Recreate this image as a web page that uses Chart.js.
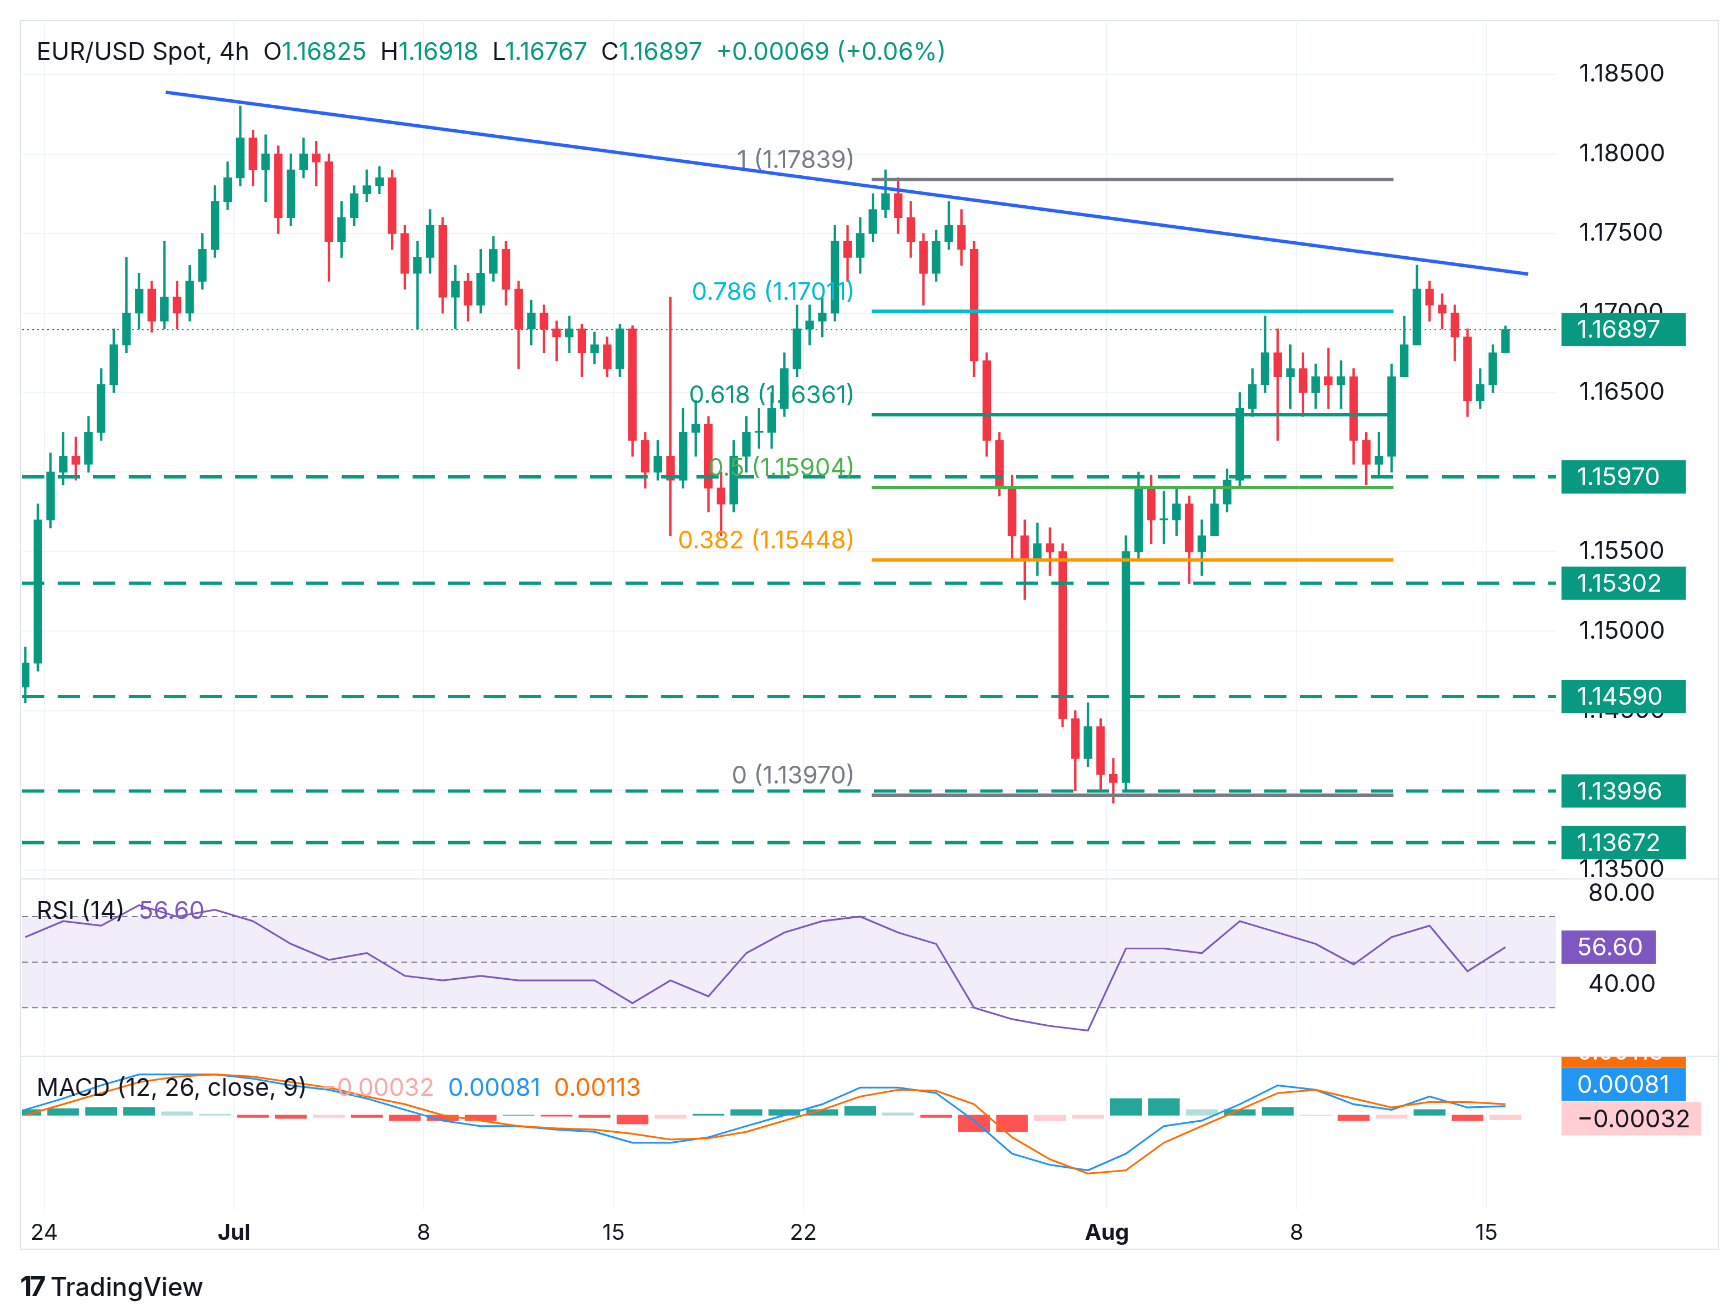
<!DOCTYPE html>
<html>
<head>
<meta charset="utf-8">
<script src="https://cdn.jsdelivr.net/npm/chart.js@4.4.1/dist/chart.umd.min.js"></script>
<style>
  body { margin:0; background:#fff; font-family: Inter, "Noto Sans", sans-serif; }
  #wrap { position:absolute; left:0; top:0; width:1560px; height:1185px; transform:scale(1.109); transform-origin:0 0; }
  .pane { position:absolute; left:18px; width:1532px; }
  .lbl { position:absolute; font-size:22px; color:#131722; white-space:pre; }
  .sep { position:absolute; left:18px; width:1532px; height:1px; background:#e0e3eb; }
</style>
</head>
<body>
<div id="wrap">
  <div style="position:absolute;left:18px;top:18px;width:1532px;height:1109px;border:1px solid #e0e3eb;box-sizing:border-box"></div>
  <div class="pane" style="top:18px;height:774px"><canvas id="main"></canvas></div>
  <div class="sep" style="top:792px"></div>
  <div class="pane" style="top:793px;height:158px"><canvas id="rsi"></canvas></div>
  <div class="sep" style="top:952px"></div>
  <div class="pane" style="top:953px;height:174px"><canvas id="macd"></canvas></div>

  <div class="lbl" style="left:33px;top:33px">EUR/USD Spot, 4h  O<span style="color:#089981">1.16825</span>  H<span style="color:#089981">1.16918</span>  L<span style="color:#089981">1.16767</span>  C<span style="color:#089981">1.16897</span>  <span style="color:#089981">+0.00069 (+0.06%)</span></div>
  <div class="lbl" style="left:33px;top:808px">RSI (14)  <span style="color:#7e57c2">56.60</span></div>
  <div class="lbl" style="left:33px;top:967px">MACD (12, 26, close, 9)  <span style="color:#f7a9a7">−0.00032</span>  <span style="color:#2196f3">0.00081</span>  <span style="color:#ff6d00">0.00113</span></div>
  <div class="lbl" style="left:18px;top:1145px;font-size:23px;font-weight:500"><b style="font-size:25px;letter-spacing:-2px">17</b> TradingView</div>
</div>
<script>
// 4h candles, drawn as 8h bars, trading-day index on x (0 = Jun 23)
const closes = [
  1.1480, 1.1570,
  1.1600, 1.1610, 1.1605,  1.1625, 1.1655, 1.1680,  1.1700, 1.1715, 1.1695,  1.1710, 1.1700, 1.1720,
  1.1740, 1.1770, 1.1785,  1.1810, 1.1790, 1.1800,  1.1760, 1.1790, 1.1800,  1.1795, 1.1745, 1.1760,  1.1775, 1.1780, 1.1785,
  1.1750, 1.1725, 1.1735,  1.1755, 1.1710, 1.1720,  1.1705, 1.1725, 1.1740,  1.1715, 1.1690, 1.1700,  1.1690, 1.1685, 1.1690,
  1.1675, 1.1680, 1.1665,  1.1690, 1.1620, 1.1600,  1.1610, 1.1595, 1.1625,  1.1630, 1.1590, 1.1580,  1.1610, 1.1625, 1.1625,
  1.1640, 1.1665, 1.1690,  1.1695, 1.1700, 1.1745,  1.1735, 1.1750, 1.1765,  1.1775, 1.1760, 1.1745,  1.1725, 1.1745, 1.1755,
  1.1740, 1.1670, 1.1620,  1.1590, 1.1560, 1.1545,  1.1555, 1.1550, 1.1445,  1.1420, 1.1440, 1.1410,  1.1405, 1.1550, 1.1590,
  1.1570, 1.1570, 1.1580,  1.1550, 1.1560, 1.1580,  1.1595, 1.1640, 1.1655,  1.1675, 1.1660, 1.1665,  1.1650, 1.1660, 1.1655,
  1.1660, 1.1620, 1.1605,  1.1610, 1.1660, 1.1680,  1.1715, 1.1705, 1.1700,  1.1685, 1.1645, 1.1655,  1.1675, 1.16897
];
const highs = [
  1.1490, 1.1580,
  1.1612, 1.1625, 1.1622,  1.1635, 1.1665, 1.1690,  1.1735, 1.1725, 1.1720,  1.1745, 1.1720, 1.1730,
  1.1750, 1.1780, 1.1795,  1.1830, 1.1815, 1.1812,  1.1805, 1.1800, 1.1810,  1.1808, 1.1800, 1.1770,  1.1780, 1.1790, 1.1792,
  1.1790, 1.1755, 1.1745,  1.1765, 1.1760, 1.1730,  1.1725, 1.1740, 1.1748,  1.1745, 1.1720, 1.1708,  1.1705, 1.1695, 1.1698,
  1.1693, 1.1688, 1.1685,  1.1693, 1.1692, 1.1625,  1.1620, 1.1710, 1.1640,  1.1645, 1.1635, 1.1600,  1.1620, 1.1635, 1.1640,
  1.1650, 1.1675, 1.1705,  1.1705, 1.1710, 1.1755,  1.1755, 1.1760, 1.1775,  1.1790, 1.1785, 1.1770,  1.1750, 1.1752, 1.1770,
  1.1765, 1.1745, 1.1675,  1.1625, 1.1598, 1.1570,  1.1568, 1.1565, 1.1555,  1.1450, 1.1455, 1.1445,  1.1420, 1.1560, 1.1600,
  1.1598, 1.1588, 1.1590,  1.1585, 1.1570, 1.1590,  1.1602, 1.1650, 1.1665,  1.1698, 1.1690, 1.1680,  1.1675, 1.1668, 1.1678,
  1.1670, 1.1665, 1.1625,  1.1625, 1.1668, 1.1698,  1.1730, 1.1720, 1.1712,  1.1705, 1.1690, 1.1665,  1.1680, 1.16918
];
const lows = [
  1.1455, 1.1475,
  1.1565, 1.1592, 1.1595,  1.1600, 1.1620, 1.1650,  1.1675, 1.1690, 1.1688,  1.1690, 1.1690, 1.1695,
  1.1715, 1.1735, 1.1765,  1.1780, 1.1780, 1.1770,  1.1750, 1.1755, 1.1785,  1.1780, 1.1720, 1.1735,  1.1755, 1.1770, 1.1775,
  1.1740, 1.1715, 1.1690,  1.1725, 1.1700, 1.1690,  1.1695, 1.1700, 1.1720,  1.1705, 1.1665, 1.1680,  1.1675, 1.1670, 1.1675,
  1.1660, 1.1668, 1.1660,  1.1660, 1.1610, 1.1590,  1.1595, 1.1560, 1.1590,  1.1610, 1.1575, 1.1560,  1.1575, 1.1600, 1.1615,
  1.1615, 1.1635, 1.1660,  1.1680, 1.1685, 1.1695,  1.1720, 1.1725, 1.1745,  1.1760, 1.1750, 1.1735,  1.1705, 1.1720, 1.1740,
  1.1730, 1.1660, 1.1610,  1.1585, 1.1545, 1.1520,  1.1535, 1.1535, 1.1440,  1.1400, 1.1415, 1.1400,  1.1392, 1.1400, 1.1545,
  1.1555, 1.1555, 1.1560,  1.1530, 1.1535, 1.1560,  1.1575, 1.1590, 1.1635,  1.1650, 1.1620, 1.1640,  1.1635, 1.1640, 1.1640,
  1.1640, 1.1605, 1.1592,  1.1598, 1.1600, 1.1660,  1.1680, 1.1695, 1.1690,  1.1670, 1.1635, 1.1640,  1.1650, 1.16767
];
const firstOpen = 1.1465;

// daily indicator readings
const rsi = [61,68,66,75,70,73,68,58,51,54,44,42,44,42,42,42,32,42,35,54,63,68,70,63,58,30,25,22,20,56,56,54,68,63,58,49,61,66,46,56.6];
const macdLine = [22,67,120,164,164,164,147,120,102,67,22,-22,-44,-44,-58,-67,-111,-111,-89,-44,0,44,111,111,89,-22,-155,-200,-222,-155,-44,-22,44,120,102,44,22,75,31,36];
const signalLine = [0,44,89,133,155,164,155,133,111,75,44,0,-22,-44,-53,-58,-75,-98,-93,-67,-22,22,75,102,98,44,-89,-178,-235,-222,-111,-44,22,89,102,67,31,53,53,44];
const histogram = [22,26,31,31,13,4,-9,-13,-9,-9,-22,-22,-22,0,-4,-9,-35,-13,4,22,22,22,35,9,-9,-66,-66,-22,-13,66,66,22,22,31,0,-22,-13,22,-22,-18];

const tickDays = [1, 6, 11, 16, 21, 29, 34, 39];
const tickLabels = ['24', 'Jul', '8', '15', '22', 'Aug', '8', '15'];
const priceTicks = [1.135, 1.14, 1.145, 1.15, 1.155, 1.16, 1.165, 1.17, 1.175, 1.18, 1.185];
const supportLevels = [1.1597, 1.15302, 1.1459, 1.13996, 1.13672];
const lastPrice = 1.16897;
const fibLevels = [
  { t: '1 (1.17839)', v: 1.17839, c: '#787b86' },
  { t: '0.786 (1.17011)', v: 1.17011, c: '#00bcd4' },
  { t: '0.618 (1.16361)', v: 1.16361, c: '#089981' },
  { t: '0.5 (1.15904)', v: 1.15904, c: '#4caf50' },
  { t: '0.382 (1.15448)', v: 1.15448, c: '#ff9800' },
  { t: '0 (1.13970)', v: 1.13970, c: '#787b86' }
];
const fibFrom = 22.8, fibTo = 36.55;
const trendLine = [{ x: 4.2, y: 1.18388 }, { x: 40.1, y: 1.17245 }];

const UP = '#089981', DOWN = '#f23645';
const X_MIN = 0.42, X_MAX = 40.83;
const AXIS_W = 147;

const opens = closes.map((c, i) => i ? closes[i - 1] : firstOpen);
const cx = closes.map((c, i) => 0.5 + i / 3);
const candleColors = closes.map((c, i) => c >= opens[i] ? UP : DOWN);

function xScale(showTicks) {
  return {
    type: 'linear', min: X_MIN, max: X_MAX, offset: false,
    afterBuildTicks: s => { s.ticks = tickDays.map(v => ({ value: v })); },
    grid: { color: '#f0f3fa', drawTicks: false, offset: false },
    border: { display: false },
    ticks: {
      display: showTicks, padding: 10, color: '#131722',
      font: ctx => ({ size: 20, family: 'Inter', weight: [6, 29].includes(ctx.tick && ctx.tick.value) ? 'bold' : 'normal' }),
      callback: v => tickLabels[tickDays.indexOf(v)]
    },
    afterFit: s => { s.height = showTicks ? 37 : 0; s.paddingLeft = 0; s.paddingRight = 0; }
  };
}
function fixWidth(s) { s.width = AXIS_W; s.paddingTop = 0; s.paddingBottom = 0; }

function box(ctx, x, y, w, text, bg, fg) {
  ctx.fillStyle = bg;
  ctx.fillRect(x, y - 15, w, 30);
  ctx.fillStyle = fg;
  ctx.font = '22px Inter';
  ctx.textBaseline = 'middle';
  ctx.textAlign = 'left';
  ctx.fillText(text, x + 14, y + 1);
}

const overlays = {
  id: 'overlays',
  afterDatasetsDraw(chart) {
    const { ctx, chartArea: a, scales: { x, y } } = chart;
    ctx.save();
    ctx.strokeStyle = UP; ctx.lineWidth = 1.2; ctx.setLineDash([1.5, 3]);
    ctx.beginPath(); ctx.moveTo(a.left, y.getPixelForValue(lastPrice)); ctx.lineTo(a.right, y.getPixelForValue(lastPrice)); ctx.stroke();
    ctx.lineWidth = 3; ctx.setLineDash([20, 12]);
    supportLevels.forEach(v => {
      const py = y.getPixelForValue(v);
      ctx.beginPath(); ctx.moveTo(a.left, py); ctx.lineTo(a.right, py); ctx.stroke();
    });
    ctx.setLineDash([]);
    ctx.font = '22px Inter'; ctx.textAlign = 'right'; ctx.textBaseline = 'middle';
    fibLevels.forEach(f => {
      const py = y.getPixelForValue(f.v);
      ctx.strokeStyle = f.c; ctx.lineWidth = 3;
      ctx.beginPath(); ctx.moveTo(x.getPixelForValue(fibFrom), py); ctx.lineTo(x.getPixelForValue(fibTo), py); ctx.stroke();
      ctx.fillStyle = f.c;
      ctx.fillText(f.t, x.getPixelForValue(fibFrom) - 15, py - 17);
    });
    ctx.strokeStyle = '#2962ff'; ctx.lineWidth = 3;
    ctx.beginPath();
    ctx.moveTo(x.getPixelForValue(trendLine[0].x), y.getPixelForValue(trendLine[0].y));
    ctx.lineTo(x.getPixelForValue(trendLine[1].x), y.getPixelForValue(trendLine[1].y));
    ctx.stroke();
    ctx.restore();
  },
  afterDraw(chart) {
    const { ctx, chartArea: a, scales: { y } } = chart;
    ctx.save();
    box(ctx, a.right + 5, y.getPixelForValue(lastPrice), 112, lastPrice.toFixed(5), UP, '#fff');
    supportLevels.forEach(v => box(ctx, a.right + 5, y.getPixelForValue(v), 112, v.toFixed(5), UP, '#fff'));
    ctx.restore();
  }
};

const baseOpts = {
  responsive: true, maintainAspectRatio: false, animation: false, devicePixelRatio: 2,
  layout: { padding: { left: 2, top: 0, bottom: 0, right: 0 } },
  plugins: { legend: { display: false }, tooltip: { enabled: false } }
};

new Chart(document.getElementById('main'), {
  type: 'bar',
  data: {
    datasets: [
      { data: cx.map((v, i) => ({ x: v, y: [lows[i], highs[i]] })), backgroundColor: candleColors, barThickness: 1.5, grouped: false, order: 2 },
      { data: cx.map((v, i) => ({ x: v, y: [opens[i], closes[i]] })), backgroundColor: candleColors, barThickness: 7, minBarLength: 1, grouped: false, order: 1 }
    ]
  },
  options: {
    ...baseOpts,
    scales: {
      x: xScale(false),
      y: {
        position: 'right', min: 1.13447, max: 1.18842,
        afterBuildTicks: s => { s.ticks = priceTicks.map(v => ({ value: v })); },
        afterFit: fixWidth,
        grid: { color: '#f0f3fa', drawTicks: false }, border: { display: false },
        ticks: { padding: 21, color: '#131722', font: { size: 22, family: 'Inter' }, callback: v => v.toFixed(5) }
      }
    }
  },
  plugins: [overlays]
});

const dayX = rsi.map((v, i) => i + 0.5);

new Chart(document.getElementById('rsi'), {
  type: 'line',
  data: {
    datasets: [{ data: rsi.map((v, i) => ({ x: dayX[i], y: v })), borderColor: '#7e57c2', borderWidth: 1.6, pointRadius: 0, tension: 0 }]
  },
  options: {
    ...baseOpts,
    scales: {
      x: xScale(false),
      y: {
        position: 'right', min: 9.8, max: 85.9,
        afterBuildTicks: s => { s.ticks = [{ value: 40 }, { value: 80 }]; },
        afterFit: fixWidth,
        grid: { display: false }, border: { display: false },
        ticks: { padding: 21, color: '#131722', font: { size: 22, family: 'Inter' }, callback: v => v.toFixed(2) }
      }
    }
  },
  plugins: [{
    id: 'band',
    beforeDatasetsDraw(chart) {
      const { ctx, chartArea: a, scales: { y } } = chart;
      ctx.save();
      ctx.fillStyle = 'rgba(126,87,194,0.1)';
      ctx.fillRect(a.left, y.getPixelForValue(70), a.width, y.getPixelForValue(30) - y.getPixelForValue(70));
      ctx.strokeStyle = '#787b86'; ctx.lineWidth = 1; ctx.setLineDash([5, 4]);
      [70, 50, 30].forEach(v => {
        const py = y.getPixelForValue(v);
        ctx.beginPath(); ctx.moveTo(a.left, py); ctx.lineTo(a.right, py); ctx.stroke();
      });
      ctx.restore();
    },
    afterDraw(chart) {
      const { chartArea: a, scales: { y } } = chart;
      box(chart.ctx, a.right + 5, y.getPixelForValue(rsi[rsi.length - 1]), 85, '56.60', '#7e57c2', '#fff');
    }
  }]
});

const histColors = histogram.map((v, i) => {
  const p = i ? histogram[i - 1] : 0;
  if (v >= 0) return v >= p ? '#26a69a' : '#b2dfdb';
  return v <= p ? '#ff5252' : '#ffcdd2';
});

new Chart(document.getElementById('macd'), {
  type: 'bar',
  data: {
    datasets: [
      { type: 'bar', data: histogram.map((v, i) => ({ x: dayX[i], y: v })), backgroundColor: histColors, barThickness: 28, order: 3 },
      { type: 'line', data: macdLine.map((v, i) => ({ x: dayX[i], y: v })), borderColor: '#2196f3', borderWidth: 1.6, pointRadius: 0, order: 2 },
      { type: 'line', data: signalLine.map((v, i) => ({ x: dayX[i], y: v })), borderColor: '#ff6d00', borderWidth: 1.6, pointRadius: 0, order: 1 }
    ]
  },
  options: {
    ...baseOpts,
    scales: {
      x: xScale(true),
      y: {
        position: 'right', min: -377, max: 231, afterFit: fixWidth,
        grid: { display: false }, border: { display: false },
        ticks: { display: false }
      }
    }
  },
  plugins: [{
    id: 'macdBoxes',
    afterDraw(chart) {
      const { ctx, chartArea: a } = chart;
      ctx.save();
      box(ctx, a.right + 5, a.top - 6, 112, '0.00113', '#ff6d00', '#fff');
      box(ctx, a.right + 5, a.top + 24, 112, '0.00081', '#2196f3', '#fff');
      box(ctx, a.right + 5, a.top + 55, 126, '−0.00032', '#ffcdd2', '#131722');
      ctx.restore();
    }
  }]
});
</script>
</body>
</html>
